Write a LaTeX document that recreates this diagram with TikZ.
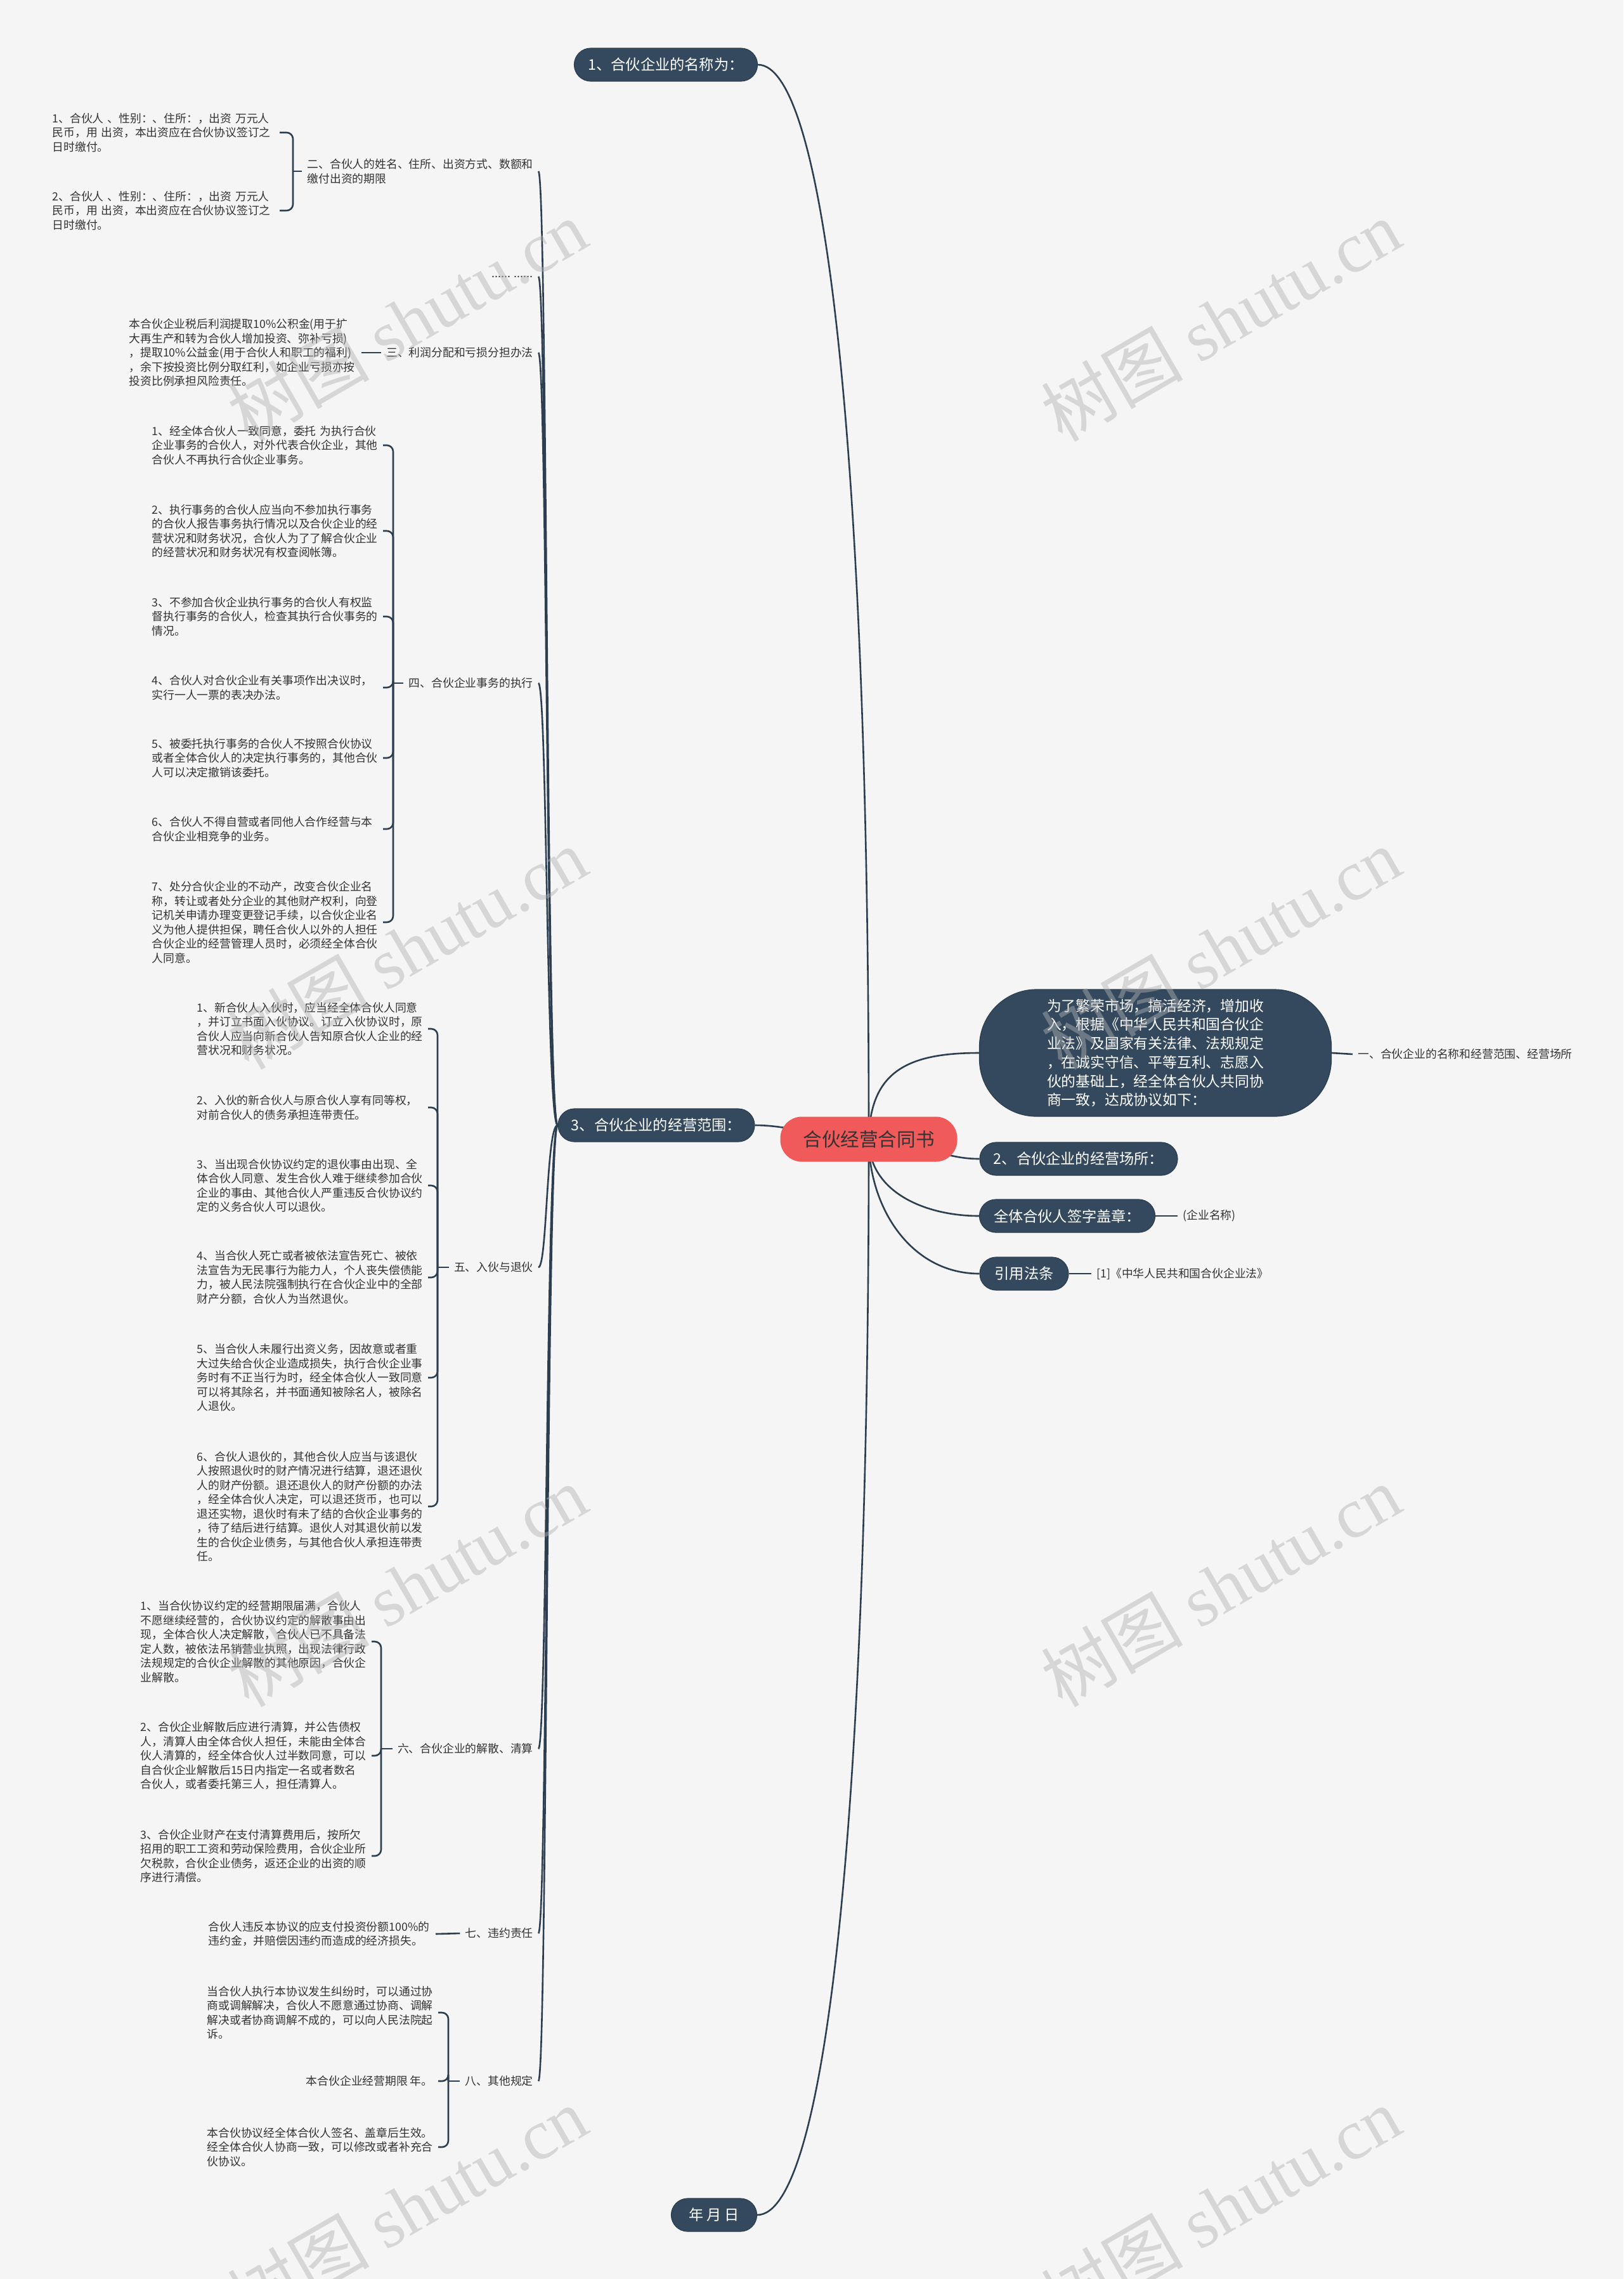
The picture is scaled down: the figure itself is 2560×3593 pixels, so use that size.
\documentclass[tikz,border=0pt]{standalone}
\usepackage{fontspec}
\setmainfont{Noto Sans CJK SC}
\newfontfamily\wmlatin{Liberation Serif}
\definecolor{bg}{HTML}{F5F5F5}
\definecolor{navy}{HTML}{34495E}
\definecolor{edge}{HTML}{2C3E50}
\definecolor{rootred}{HTML}{F05A5A}
\definecolor{txt}{HTML}{333333}
\pgfdeclarelayer{paper}
\pgfdeclarelayer{lines}
\pgfsetlayers{paper,lines,main}
\tikzset{
  main/.style={draw=edge, line width=0.6pt, fill=navy, text=white, rounded corners=13pt,
    minimum height=26pt, inner xsep=0pt, inner ysep=0pt, align=center,
    font=\fontsize{11.6}{14}\selectfont},
  leaf/.style={text=txt, font=\fontsize{8.9}{11.25}\selectfont, align=left,
    inner xsep=4pt, inner ysep=1pt},
  para/.style={leaf, anchor=east, text width=178pt},
  conn/.style={draw=edge, line width=1.3pt},
  brk/.style={draw=edge, line width=1.3pt, rounded corners=5pt},
  wm/.style={text=gray!60, opacity=0.45, rotate=30, inner sep=0pt,
    font=\fontsize{56}{60}\selectfont}
}
\begin{document}
\begin{tikzpicture}[x=0.5pt,y=-0.5pt]
\begin{pgfonlayer}{paper}
\fill[bg] (0,0) rectangle (2560,3593);
\end{pgfonlayer}
\useasboundingbox (0,0) rectangle (2560,3593);

% ---------- main nodes ----------
\node[fill=rootred, rounded corners=17pt, minimum width=139.5pt, minimum height=35.5pt,
  inner sep=0pt, text=txt, font=\fontsize{14.8}{17}\selectfont] (root) at (1370,1796) {合伙经营合同书};
\node[main, minimum width=144.5pt] (n1) at (1050,102) {1、合伙企业的名称为：};
\node[main, minimum width=155pt] (n3) at (1035,1774) {3、合伙企业的经营范围：};
\node[main, minimum width=277.5pt, minimum height=100pt, rounded corners=45pt, align=left,
  font=\fontsize{11.4}{14.85}\selectfont] (big) at (1822,1660)
  {为了繁荣市场，搞活经济，增加收\\入，根据《中华人民共和国合伙企\\业法》及国家有关法律、法规规定\\，在诚实守信、平等互利、志愿入\\伙的基础上，经全体合伙人共同协\\商一致，达成协议如下：};
\node[main, minimum width=156pt] (n2) at (1701,1827) {2、合伙企业的经营场所：};
\node[main, minimum width=138.5pt] (sign) at (1683,1917) {全体合伙人签字盖章：};
\node[main, minimum width=70pt] (law) at (1615,2008) {引用法条};
\node[main, minimum width=67.5pt] (date) at (1126,3492) {年 月 日};

% ---------- right leaves ----------
\node[leaf, anchor=west] (r1) at (2133,1662) {一、合伙企业的名称和经营范围、经营场所};
\node[leaf, anchor=west] (r2) at (1857,1917) {(企业名称)};
\node[leaf, anchor=west] (r3) at (1721,2008) {[1]《中华人民共和国合伙企业法》};

% ---------- level 2 labels ----------
\node[leaf, anchor=east] (s2) at (849,270) {二、合伙人的姓名、住所、出资方式、数额和\\缴付出资的期限};
\node[leaf, anchor=east] (sdots) at (849,436) {...... ......};
\node[leaf, anchor=east] (s3) at (849,556) {三、利润分配和亏损分担办法};
\node[leaf, anchor=east] (s4) at (849,1077) {四、合伙企业事务的执行};
\node[leaf, anchor=east] (s5) at (849,1998) {五、入伙与退伙};
\node[leaf, anchor=east] (s6) at (849,2757) {六、合伙企业的解散、清算};
\node[leaf, anchor=east] (s7) at (849,3048) {七、违约责任};
\node[leaf, anchor=east] (s8) at (849,3281) {八、其他规定};

% ---------- level 3 ----------
\node[para, text width=175pt] (c21) at (441,209) {1、合伙人~、性别：、住所：，出资~万元人\\民币，用~出资，本出资应在合伙协议签订之\\日时缴付。};
\node[para, text width=175pt] (c22) at (441,332) {2、合伙人~、性别：、住所：，出资~万元人\\民币，用~出资，本出资应在合伙协议签订之\\日时缴付。};

\node[para, text width=179pt] (c31) at (570,556) {本合伙企业税后利润提取10\%公积金(用于扩\\大再生产和转为合伙人增加投资、弥补亏损)\\，提取10\%公益金(用于合伙人和职工的福利)\\，余下按投资比例分取红利，如企业亏损亦按\\投资比例承担风险责任。};

\node[para] (c41) at (604,702) {1、经全体合伙人一致同意，委托~为执行合伙\\企业事务的合伙人，对外代表合伙企业，其他\\合伙人不再执行合伙企业事务。};
\node[para] (c42) at (604,837) {2、执行事务的合伙人应当向不参加执行事务\\的合伙人报告事务执行情况以及合伙企业的经\\营状况和财务状况，合伙人为了了解合伙企业\\的经营状况和财务状况有权查阅帐簿。};
\node[para] (c43) at (604,972) {3、不参加合伙企业执行事务的合伙人有权监\\督执行事务的合伙人，检查其执行合伙事务的\\情况。};
\node[para] (c44) at (604,1084) {4、合伙人对合伙企业有关事项作出决议时，\\实行一人一票的表决办法。};
\node[para] (c45) at (604,1195) {5、被委托执行事务的合伙人不按照合伙协议\\或者全体合伙人的决定执行事务的，其他合伙\\人可以决定撤销该委托。};
\node[para] (c46) at (604,1307) {6、合伙人不得自营或者同他人合作经营与本\\合伙企业相竞争的业务。};
\node[para] (c47) at (604,1454) {7、处分合伙企业的不动产，改变合伙企业名\\称，转让或者处分企业的其他财产权利，向登\\记机关申请办理变更登记手续，以合伙企业名\\义为他人提供担保，聘任合伙人以外的人担任\\合伙企业的经营管理人员时，必须经全体合伙\\人同意。};

\node[para] (c51) at (675,1622) {1、新合伙人入伙时，应当经全体合伙人同意\\，并订立书面入伙协议。订立入伙协议时，原\\合伙人应当向新合伙人告知原合伙人企业的经\\营状况和财务状况。};
\node[para] (c52) at (675,1746) {2、入伙的新合伙人与原合伙人享有同等权，\\对前合伙人的债务承担连带责任。};
\node[para] (c53) at (675,1869) {3、当出现合伙协议约定的退伙事由出现、全\\体合伙人同意、发生合伙人难于继续参加合伙\\企业的事由、其他合伙人严重违反合伙协议约\\定的义务合伙人可以退伙。};
\node[para] (c54) at (675,2014) {4、当合伙人死亡或者被依法宣告死亡、被依\\法宣告为无民事行为能力人，个人丧失偿债能\\力，被人民法院强制执行在合伙企业中的全部\\财产分额，合伙人为当然退伙。};
\node[para] (c55) at (675,2172) {5、当合伙人未履行出资义务，因故意或者重\\大过失给合伙企业造成损失，执行合伙企业事\\务时有不正当行为时，经全体合伙人一致同意\\可以将其除名，并书面通知被除名人，被除名\\人退伙。};
\node[para] (c56) at (675,2375) {6、合伙人退伙的，其他合伙人应当与该退伙\\人按照退伙时的财产情况进行结算，退还退伙\\人的财产份额。退还退伙人的财产份额的办法\\，经全体合伙人决定，可以退还货币，也可以\\退还实物，退伙时有未了结的合伙企业事务的\\，待了结后进行结算。退伙人对其退伙前以发\\生的合伙企业债务，与其他合伙人承担连带责\\任。};

\node[para] (c61) at (586,2588) {1、当合伙协议约定的经营期限届满，合伙人\\不愿继续经营的，合伙协议约定的解散事由出\\现，全体合伙人决定解散，合伙人已不具备法\\定人数，被依法吊销营业执照，出现法律行政\\法规规定的合伙企业解散的其他原因，合伙企\\业解散。};
\node[para] (c62) at (586,2768) {2、合伙企业解散后应进行清算，并公告债权\\人，清算人由全体合伙人担任，未能由全体合\\伙人清算的，经全体合伙人过半数同意，可以\\自合伙企业解散后15日内指定一名或者数名\\合伙人，或者委托第三人，担任清算人。};
\node[para] (c63) at (586,2926) {3、合伙企业财产在支付清算费用后，按所欠\\招用的职工工资和劳动保险费用，合伙企业所\\欠税款，合伙企业债务，返还企业的出资的顺\\序进行清偿。};

\node[para, text width=175pt] (c71) at (687,3049) {合伙人违反本协议的应支付投资份额100\%的\\违约金，并赔偿因违约而造成的经济损失。};

\node[para] (c81) at (691,3173) {当合伙人执行本协议发生纠纷时，可以通过协\\商或调解解决，合伙人不愿意通过协商、调解\\解决或者协商调解不成的，可以向人民法院起\\诉。};
\node[leaf, anchor=east] (c82) at (691,3281) {本合伙企业经营期限 年。};
\node[para] (c83) at (691,3385) {本合伙协议经全体合伙人签名、盖章后生效。\\经全体合伙人协商一致，可以修改或者补充合\\伙协议。};

% ---------- bracket junctions ----------
\coordinate (b2) at (462,270);
\coordinate (b4) at (620,1077);
\coordinate (b5) at (690,1998);
\coordinate (b6) at (601,2757);
\coordinate (b8) at (707,3281);

% ---------- connectors ----------
\begin{pgfonlayer}{lines}
% root to first level
\draw[conn] (root.center) .. controls (1370,700) and (1300,102) .. (n1.east);
\draw[conn] (root.center) .. controls (1370,2890) and (1300,3492) .. (date.east);
\draw[conn] (root.center) .. controls (1300,1796) and (1250,1774) .. (n3.east);
\draw[conn] (root.center) .. controls (1450,1796) and (1480,1827) .. (n2.west);
\draw[conn] (root.center) .. controls (1372,1690) and (1430,1660) .. (big.west);
\draw[conn] (root.center) .. controls (1370,1880) and (1460,1917) .. (sign.west);
\draw[conn] (root.center) .. controls (1370,1905) and (1437,2008) .. (law.west);
% right leaves
\draw[conn] (big.east) -- (r1.west);
\draw[conn] (sign.east) -- (r2.west);
\draw[conn] (law.east) -- (r3.west);
% fan from 3
\foreach \t in {s2,sdots,s3,s4,s5,s6,s7,s8}
  \draw[conn] (n3.west) .. controls +(-18,0) and +(14,0) .. (\t.east);
% straight ones
\draw[conn] (s3.west) -- (c31.east);
\draw[conn] (s7.west) -- (c71.east);
% brackets
\draw[conn] (s2.west) -- (b2);
\foreach \c in {c21,c22} \draw[brk] (b2) |- (\c.east);
\draw[conn] (s4.west) -- (b4);
\foreach \c in {c41,c42,c43,c44,c45,c46,c47} \draw[brk] (b4) |- (\c.east);
\draw[conn] (s5.west) -- (b5);
\foreach \c in {c51,c52,c53,c54,c55,c56} \draw[brk] (b5) |- (\c.east);
\draw[conn] (s6.west) -- (b6);
\foreach \c in {c61,c62,c63} \draw[brk] (b6) |- (\c.east);
\draw[conn] (s8.west) -- (b8);
\foreach \c in {c81,c82,c83} \draw[brk] (b8) |- (\c.east);
\end{pgfonlayer}

% ---------- watermarks ----------
\foreach \wx/\wy [count=\i] in {642/505,1925/505,642/1495,1925/1495,642/2500,1925/2500,642/3480,1925/3480}
  \node[wm] (wm\i) at (\wx,\wy) {树图 {\wmlatin shutu.cn}};
\end{tikzpicture}
\end{document}
